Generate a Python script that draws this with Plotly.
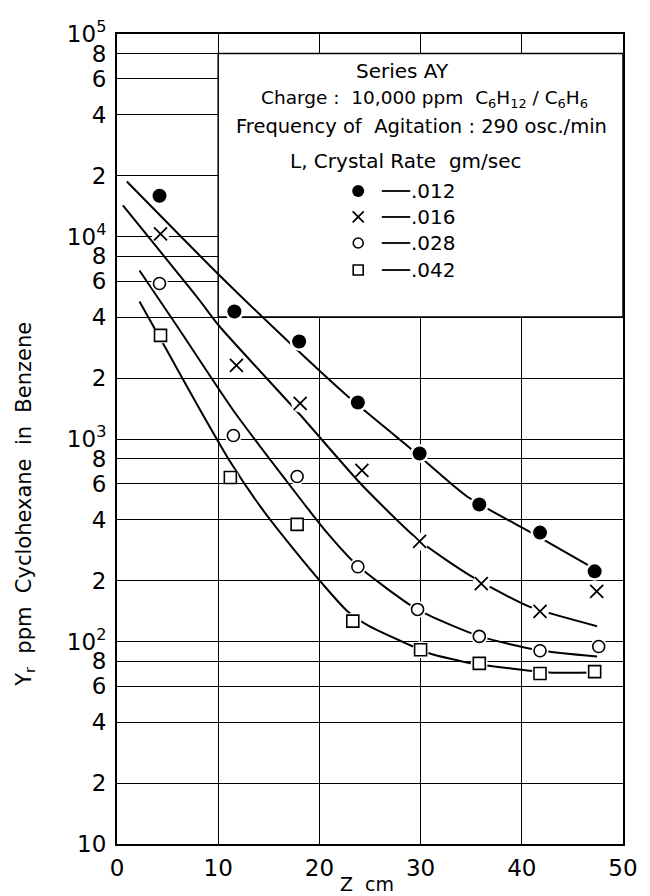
import plotly.graph_objects as go

FONT = "DejaVu Sans"

# Measured residual cyclohexane Y_r (ppm) versus column height Z (cm), per crystal rate
z_012 = [4.2, 11.6, 18.0, 23.8, 29.9, 35.8, 41.8, 47.2]
y_012 = [15900, 4260, 3030, 1515, 848, 475, 345, 222]
z_016 = [4.3, 11.8, 18.1, 24.2, 29.9, 36.0, 41.8, 47.4]
y_016 = [10300, 2310, 1500, 700, 312, 193, 141, 177]
z_028 = [4.2, 11.5, 17.8, 23.8, 29.7, 35.8, 41.8, 47.6]
y_028 = [5860, 1040, 653, 234, 144, 106, 90, 94.5]
z_042 = [4.3, 11.2, 17.8, 23.3, 30.0, 35.8, 41.8, 47.2]
y_042 = [3250, 646, 379, 126, 91, 78, 69.5, 71]

# Smoothed correlation curves drawn through the data
cz_012 = [0.97, 10.14, 16.71, 22.71, 28.99, 34.59, 41.06, 47.15]
cy_012 = [18690, 6418, 3100, 1640, 898, 520, 342, 229]
cz_016 = [0.58, 8.02, 10.14, 18.07, 24.15, 29.86, 35.07, 40.68, 47.44]
cy_016 = [14230, 4941, 3594, 1321, 596, 315, 209, 149, 119]
cz_028 = [2.22, 6.09, 11.50, 16.71, 20.58, 23.77, 29.66, 35.85, 41.84, 47.44]
cy_028 = [6795, 3513, 1383, 624, 353, 237, 144, 106, 90.3, 84.3]
cz_042 = [2.22, 4.83, 8.02, 11.11, 14.30, 17.39, 20.29, 22.71, 24.93, 28.60,
          30.92, 35.07, 38.94, 42.61, 47.15]
cy_042 = [4775, 2798, 1447, 783, 454, 288, 193, 142, 119, 97.7,
          87.3, 77.9, 73.6, 70.3, 70.3]

rates = [".012", ".016", ".028", ".042"]

# Axis ticks
x_ticks = [0, 10, 20, 30, 40, 50]
y_ticks = []
y_labels = []
for d in range(1, 5):
    for m in [1, 2, 4, 6, 8]:
        y_ticks.append(m * 10 ** d)
        if m == 1:
            y_labels.append("10" if d == 1 else f"10<sup>{d}</sup>")
        else:
            y_labels.append(str(m))
y_ticks.append(10 ** 5)
y_labels.append("10<sup>5</sup>")

# Key panel extent (Z, Y_r)
box_x = [10, 50, 50, 10, 10]
box_y = [4000, 4000, 80000, 80000, 4000]

series = [
    (z_012, y_012, cz_012, cy_012, dict(symbol="circle", size=14, color="black")),
    (z_016, y_016, cz_016, cy_016, dict(symbol="x-thin", size=13, color="black",
                                        line=dict(width=1.8, color="black"))),
    (z_028, y_028, cz_028, cy_028, dict(symbol="circle", size=12, color="white",
                                        line=dict(width=1.6, color="black"))),
    (z_042, y_042, cz_042, cy_042, dict(symbol="square", size=12, color="white",
                                        line=dict(width=1.6, color="black"))),
]

fig = go.Figure()

# white key panel hides the grid underneath it
fig.add_trace(go.Scatter(x=box_x, y=box_y, mode="lines", fill="toself",
                         fillcolor="white", line=dict(color="black", width=1.5),
                         hoverinfo="skip", showlegend=False))

for z, y, cz, cy, mk in series:
    fig.add_trace(go.Scatter(x=cz, y=cy, mode="lines",
                             line=dict(color="black", width=2, shape="spline", smoothing=0.6),
                             hoverinfo="skip", showlegend=False))
for z, y, cz, cy, mk in series:
    fig.add_trace(go.Scatter(x=z, y=y, mode="markers",
                             marker=dict(symbol="circle", size=mk["size"] + 5, color="white"),
                             hoverinfo="skip", showlegend=False))
for z, y, cz, cy, mk in series:
    fig.add_trace(go.Scatter(x=z, y=y, mode="markers", marker=mk,
                             hoverinfo="skip", showlegend=False))

# key entries on an overlay axis spanning the plot area
row_y = [0.8062, 0.7741, 0.7420, 0.7086]
for (z, y, cz, cy, mk), ry, rate in zip(series, row_y, rates):
    km = dict(mk)
    km["size"] = mk["size"] - 2
    fig.add_trace(go.Scatter(x=[0.4767], y=[ry], mode="markers", marker=km,
                             xaxis="x2", yaxis="y2", hoverinfo="skip", showlegend=False))
    fig.add_trace(go.Scatter(x=[0.5233, 0.5795], y=[ry, ry], mode="lines",
                             line=dict(color="black", width=1.8),
                             xaxis="x2", yaxis="y2", hoverinfo="skip", showlegend=False))
    fig.add_annotation(x=0.5775, y=ry, xref="paper", yref="paper", text=rate,
                       showarrow=False, xanchor="left", yanchor="middle",
                       font=dict(family=FONT, size=20, color="black"))

key_text = [
    ("Series AY", 0.564, 0.954, 20),
    ("Charge :  10,000 ppm  C<sub>6</sub>H<sub>12</sub> / C<sub>6</sub>H<sub>6</sub>", 0.6085, 0.920, 18.5),
    ("Frequency of  Agitation : 290 osc./min", 0.6027, 0.8864, 19.5),
    ("L, Crystal Rate  gm/sec", 0.5717, 0.8432, 20),
]
for txt, ax, ay, fs in key_text:
    fig.add_annotation(x=ax, y=ay, xref="paper", yref="paper", text=txt,
                       showarrow=False, xanchor="center", yanchor="middle",
                       font=dict(family=FONT, size=fs, color="black"))

# axis titles
fig.add_annotation(x=-0.182, y=0.4198, xref="paper", yref="paper",
                   text="Y<sub>r</sub>  ppm  Cyclohexane  in  Benzene",
                   textangle=-90, showarrow=False, xanchor="center", yanchor="middle",
                   font=dict(family=FONT, size=21, color="black"))
fig.add_annotation(x=0.494, y=-0.0495, xref="paper", yref="paper", text="Z  cm",
                   showarrow=False, xanchor="center", yanchor="middle",
                   font=dict(family=FONT, size=19, color="black"))

fig.update_layout(
    width=650, height=896,
    margin=dict(l=117, r=17, t=34, b=52),
    paper_bgcolor="white", plot_bgcolor="white",
    font=dict(family=FONT, color="black"),
    xaxis=dict(range=[0, 50], tickvals=x_ticks, ticktext=[str(v) for v in x_ticks],
               showgrid=True, gridcolor="black", gridwidth=1.2, zeroline=False,
               showline=True, linecolor="black", linewidth=2, mirror=True,
               ticks="outside", ticklen=2, tickcolor="rgba(0,0,0,0)",
               tickfont=dict(family=FONT, size=23, color="black")),
    yaxis=dict(type="log", range=[1, 5], tickvals=y_ticks, ticktext=y_labels,
               showgrid=True, gridcolor="black", gridwidth=1.2, zeroline=False,
               showline=True, linecolor="black", linewidth=2, mirror=True,
               ticks="outside", ticklen=4, tickcolor="rgba(0,0,0,0)",
               tickfont=dict(family=FONT, size=23, color="black")),
    xaxis2=dict(overlaying="x", range=[0, 1], visible=False, anchor="y2"),
    yaxis2=dict(overlaying="y", range=[0, 1], visible=False, anchor="x2"),
)

fig.write_html("out.html")
